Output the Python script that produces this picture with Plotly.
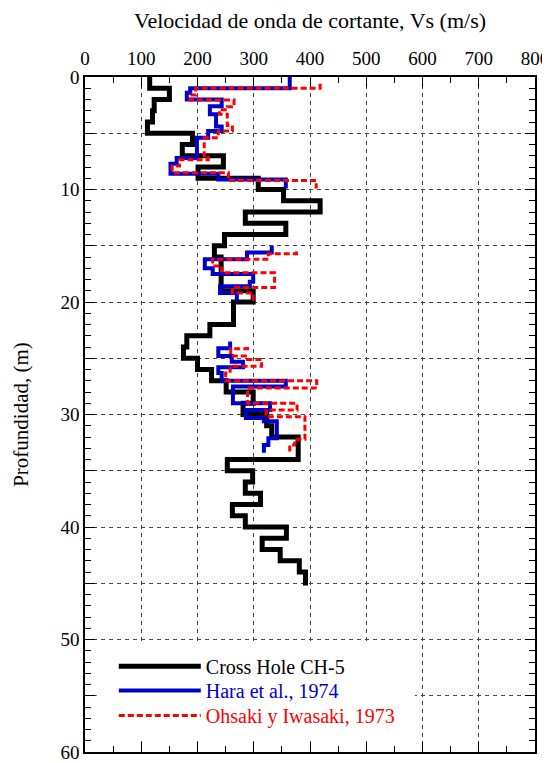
import plotly.graph_objects as go

# ---------------- data ----------------
# Cross Hole CH-5 : top depth of each layer (m) and Vs (m/s)
ch5_top = [0, 1, 2, 3, 4, 5, 6, 7, 8, 9, 10, 11, 12, 13, 14, 15, 16, 19, 20, 22,
           23, 24, 25, 26, 27, 28, 29, 30, 31, 32, 34, 35, 36, 37, 38, 39, 40,
           41, 42, 43, 44]
ch5_vs = [115, 150, 123, 120, 111, 191, 173, 246, 201, 308, 353, 418, 285, 357,
          248, 230, 242, 299, 264, 222, 181, 175, 200, 225, 251, 299, 281, 323,
          332, 379, 253, 298, 285, 312, 262, 285, 358, 315, 347, 381, 392]
ch5_bottom = 45.2

# Hara et al., 1974 (three measured intervals)
hara_top_1 = [0, 1.0, 1.4, 2.0, 2.6, 3.3, 4.4, 4.8, 5.4, 7.2, 7.7, 8.6, 9.1]
hara_vs_1 = [364, 187, 181, 243, 222, 233, 243, 219, 199, 163, 152, 237, 357]
hara_bottom_1 = 9.9
hara_top_2 = [15.0, 15.6, 16.2, 17.0, 17.5, 18.2, 18.6, 19.2]
hara_vs_2 = [332, 288, 213, 227, 299, 293, 240, 270]
hara_bottom_2 = 19.95
hara_top_3 = [23.5, 24.1, 24.8, 25.3, 25.8, 26.3, 27.0, 27.5, 29.0, 29.6, 30.3,
              30.6, 32.1, 32.7]
hara_vs_3 = [258, 237, 261, 281, 237, 243, 357, 263, 329, 286, 318, 341, 326, 318]
hara_bottom_3 = 33.4

# Ohsaki y Iwasaki, 1973
ohs_top_1 = [0.6, 1.0, 1.6, 2.05, 2.65, 2.9, 3.3, 4.3, 4.8, 5.4, 7.0, 7.35, 7.9,
             8.5, 9.2]
ohs_vs_1 = [418, 197, 187, 265, 253, 239, 253, 262, 237, 212, 219, 168, 155, 255, 411]
ohs_bottom_1 = 9.9
ohs_top_2 = [15.5, 15.7, 16.2, 16.8, 17.4, 18.7, 19.2]
ohs_vs_2 = [376, 326, 227, 243, 337, 262, 299]
ohs_bottom_2 = 19.9
ohs_top_3 = [24.0, 24.15, 24.8, 25.1, 25.7, 26.3, 27.0, 27.65, 29.0, 29.6, 30.2,
             32.2, 32.7]
ohs_vs_3 = [289, 259, 289, 314, 258, 250, 412, 289, 377, 322, 391, 373, 364]
ohs_bottom_3 = 33.3

x_ticks = [0, 100, 200, 300, 400, 500, 600, 700, 800]
y_ticks = [0, 5, 10, 15, 20, 25, 30, 35, 40, 45, 50, 55, 60]
y_ticktext = ["0", "", "10", "", "20", "", "30", "", "40", "", "50", "", "60"]


def steps(sections):
    xs, ys = [], []
    for tops, vs, bottom in sections:
        if xs:
            xs.append(None)
            ys.append(None)
        xs += list(vs) + [vs[-1]]
        ys += list(tops) + [bottom]
    return xs, ys


FONT = "Liberation Serif"

fig = go.Figure()

x, y = steps([(ch5_top, ch5_vs, ch5_bottom)])
fig.add_trace(go.Scatter(x=x, y=y, mode="lines", line_shape="vh",
                         line=dict(color="black", width=5),
                         name="Cross Hole CH-5", legend="legend"))

x, y = steps([(hara_top_1, hara_vs_1, hara_bottom_1),
              (hara_top_2, hara_vs_2, hara_bottom_2),
              (hara_top_3, hara_vs_3, hara_bottom_3)])
fig.add_trace(go.Scatter(x=x, y=y, mode="lines", line_shape="vh",
                         line=dict(color="#0000cc", width=4),
                         connectgaps=False, legend="legend2",
                         name="<span style='color:#0000cc'>Hara et al., 1974</span>"))

x, y = steps([(ohs_top_1, ohs_vs_1, ohs_bottom_1),
              (ohs_top_2, ohs_vs_2, ohs_bottom_2),
              (ohs_top_3, ohs_vs_3, ohs_bottom_3)])
fig.add_trace(go.Scatter(x=x, y=y, mode="lines", line_shape="vh",
                         line=dict(color="#ff0000", width=3, dash="6px,3px"),
                         connectgaps=False, legend="legend3",
                         name="<span style='color:#ff0000'>Ohsaki y Iwasaki, 1973</span>"))

# white area behind the legend (hides the grid there), inset from the axes ticks
fig.add_shape(type="rect", xref="x domain", yref="y domain",
              x0=0.026, x1=0.733, y0=0.018, y1=0.162, layer="above",
              line=dict(width=0), fillcolor="white")

grid = dict(showgrid=True, gridcolor="#444444", gridwidth=1, griddash="4px,4px")

fig.update_xaxes(side="top", range=[0, 800], tickmode="array", tickvals=x_ticks,
                 ticks="inside", ticklen=10, tickwidth=1, tickcolor="black",
                 minor=dict(dtick=50, ticks="inside", ticklen=6, tickcolor="black",
                            showgrid=False),
                 showline=True, linecolor="black", linewidth=1.5, mirror="ticks",
                 zeroline=False, automargin=False, ticklabelstandoff=3,
                 tickfont=dict(family=FONT, size=19, color="black"),
                 title=dict(text="Velocidad de onda de cortante, Vs (m/s)",
                            font=dict(family=FONT, size=22, color="black"),
                            standoff=15),
                 **grid)
fig.update_yaxes(range=[60, 0], tickmode="array", tickvals=y_ticks,
                 ticktext=y_ticktext,
                 ticks="inside", ticklen=10, tickwidth=1, tickcolor="black",
                 minor=dict(dtick=1, ticks="inside", ticklen=6, tickcolor="black",
                            showgrid=False),
                 showline=True, linecolor="black", linewidth=1.5, mirror="ticks",
                 zeroline=False, automargin=False,
                 tickfont=dict(family=FONT, size=19, color="black"),
                 title=dict(text="Profundidad, (m)",
                            font=dict(family=FONT, size=21, color="black"),
                            standoff=26),
                 **grid)

leg = dict(x=0.064, xanchor="left", yanchor="middle",
           bgcolor="rgba(0,0,0,0)", borderwidth=0,
           font=dict(family=FONT, size=20, color="black"), itemwidth=82)

fig.update_layout(
    width=542, height=755,
    margin=dict(l=77, r=15, t=69, b=11),
    plot_bgcolor="white", paper_bgcolor="white",
    showlegend=True,
    legend=dict(leg, y=0.127),
    legend2=dict(leg, y=0.091),
    legend3=dict(leg, y=0.054),
)

fig.write_html("out.html")
